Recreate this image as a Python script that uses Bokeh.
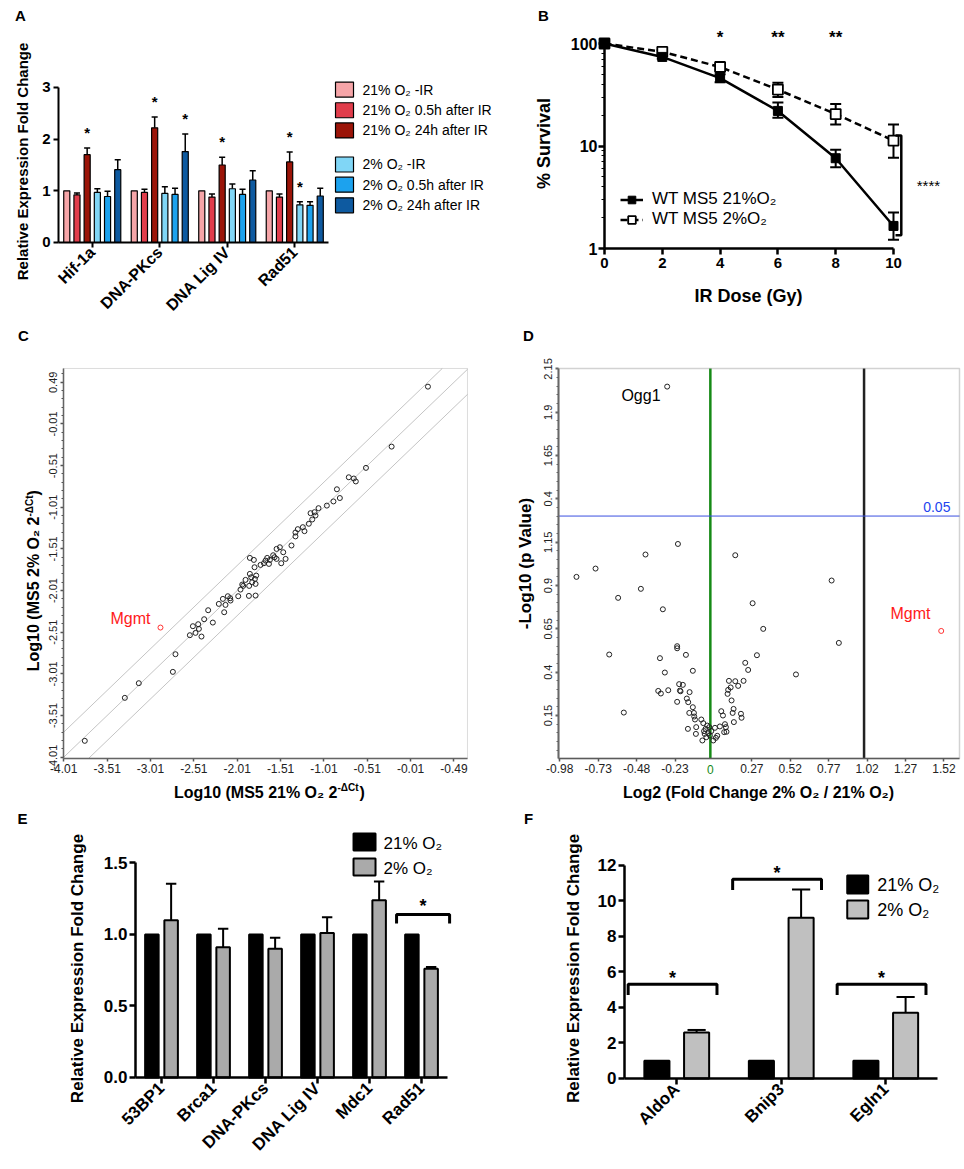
from math import pi
import numpy as np
from bokeh.plotting import figure
from bokeh.models import (Range1d, FixedTicker, Label, Whisker, TeeHead, BoxAnnotation,
                          ColumnDataSource, Legend, LegendItem)
from bokeh.layouts import row, column
from bokeh.embed import file_html
from bokeh.resources import INLINE
from bokeh.core.properties import value

FONT = "Liberation Sans"

# ======================= DATA =======================
# ---- Panel A ----
a_genes = ["Hif-1a", "DNA-PKcs", "DNA Lig IV", "Rad51"]
a_series = ["21% O₂ -IR", "21% O₂ 0.5h after IR", "21% O₂ 24h after IR",
            "2% O₂ -IR", "2% O₂ 0.5h after IR", "2% O₂ 24h after IR"]
a_colors = ["#f6a5a8", "#e13d4b", "#9b1408", "#80d6f6", "#1ca2ee", "#0e5aa0"]
a_values = [
    [1.00, 1.00, 1.00, 1.00],
    [0.92, 0.97, 0.88, 0.88],
    [1.70, 2.22, 1.50, 1.56],
    [0.97, 0.95, 1.04, 0.73],
    [0.89, 0.93, 0.93, 0.72],
    [1.41, 1.76, 1.21, 0.90],
]
a_err_top = [
    [1.00, 1.00, 1.00, 1.00],
    [0.96, 1.03, 0.94, 0.94],
    [1.83, 2.43, 1.65, 1.75],
    [1.04, 1.08, 1.13, 0.79],
    [0.99, 1.05, 1.03, 0.79],
    [1.60, 2.10, 1.39, 1.05],
]
a_sig = [(2, 0), (2, 1), (5, 1), (2, 2), (2, 3), (3, 3)]  # (series, gene)

# ---- Panel B ----
b_dose = [0, 2, 4, 6, 8, 10]
b_21 = [100, 74, 46, 22, 7.6, 1.66]
b_21_lo = [100, 71, 42, 18.9, 6.2, 1.22]
b_21_hi = [100, 77, 50, 26.5, 9.2, 2.25]
b_2 = [100, 83, 59, 35.5, 20.5, 11.3]
b_2_lo = [100, 80, 55.5, 30.1, 16.2, 7.7]
b_2_hi = [100, 86, 62.5, 41.4, 25.7, 16.2]
b_sig_dose = [4, 6, 8]
b_sig_text = ["*", "**", "**"]
b_overall_sig = "****"

# ---- Panel C ---- (log10 21% , log10 2%)
c_points = [
    (0.19, 0.438), (-0.229, -0.282), (-0.525, -0.537), (-0.723, -0.65), (-0.665, -0.665),
    (-0.642, -0.70), (-0.86, -0.794), (-0.826, -0.899), (-0.90, -0.94), (-0.976, -0.99),
    (-1.072, -1.021), (-1.118, -1.069), (-1.164, -1.081), (-1.107, -1.109), (-1.145, -1.157),
    (-1.184, -1.208), (-1.253, -1.249), (-1.311, -1.273), (-1.234, -1.297), (-1.338, -1.313),
    (-1.338, -1.36), (-1.384, -1.469),
    (-3.768, -3.814), (-3.306, -3.298), (-3.145, -3.122), (-2.752, -2.986), (-2.722, -2.774),
    (-2.556, -2.546), (-2.521, -2.438), (-2.491, -2.518), (-2.46, -2.414), (-2.452, -2.47),
    (-2.422, -2.562), (-2.391, -2.354), (-2.345, -2.246), (-2.291, -2.394), (-2.222, -2.17),
    (-2.175, -2.11), (-2.16, -2.27), (-2.145, -2.182), (-2.118, -2.078), (-2.091, -2.102),
    (-2.087, -2.13), (-1.998, -2.078), (-1.972, -1.998), (-1.952, -1.938), (-1.941, -1.954),
    (-1.914, -1.882), (-1.875, -2.074), (-1.872, -1.954), (-1.864, -1.81), (-1.864, -1.618),
    (-1.848, -1.85), (-1.837, -1.91), (-1.818, -1.642), (-1.81, -1.73), (-1.806, -1.87),
    (-1.798, -1.93), (-1.791, -1.83), (-1.798, -2.07), (-1.741, -1.702), (-1.702, -1.682),
    (-1.683, -1.65), (-1.664, -1.618), (-1.644, -1.69), (-1.633, -1.642), (-1.595, -1.586),
    (-1.579, -1.61), (-1.556, -1.63), (-1.556, -1.51), (-1.518, -1.49), (-1.502, -1.682),
    (-1.479, -1.55), (-1.452, -1.63),
]
c_mgmt = (-2.895, -2.454)
c_ticks = [-4.01, -3.51, -3.01, -2.51, -2.01, -1.51, -1.01, -0.51, -0.01, 0.49]
c_xlabels = ["-4.01", "-3.51", "-3.01", "-2.51", "-2.01", "-1.51", "-1.01", "-0.51", "-0.01", "-0.49"]
c_ylabels = ["-4.01", "-3.51", "-3.01", "-2.51", "-2.01", "-1.51", "-1.01", "-0.51", "-0.01", "0.49"]
c_fold = np.log10(2)

# ---- Panel D ---- (log2 fold change, -log10 p)
d_points = [
    (-0.871, 0.950), (-0.747, 0.998), (-0.658, 0.502), (-0.600, 0.829), (-0.563, 0.167),
    (-0.452, 0.881), (-0.422, 1.079), (-0.328, 0.481), (-0.322, 0.277), (-0.339, 0.292),
    (-0.309, 0.763), (-0.296, 0.398), (-0.274, 0.296), (-0.216, 0.550), (-0.216, 0.538),
    (-0.216, 0.229), (-0.211, 1.140), (-0.203, 0.331), (-0.198, 0.294), (-0.194, 0.290),
    (-0.179, 0.327), (-0.159, 0.500), (-0.153, 0.248), (-0.144, 0.227), (-0.137, 0.165),
    (-0.135, 0.285), (-0.146, 0.073), (-0.114, 0.408), (-0.114, 0.198), (-0.107, 0.165),
    (-0.105, 0.144), (-0.100, 0.127), (-0.094, 0.044), (-0.092, 0.083), (-0.059, 0.127),
    (-0.052, 0.006), (-0.046, 0.106), (-0.041, 0.060), (-0.037, 0.044), (-0.031, 0.073),
    (-0.026, 0.025), (-0.020, 0.092), (-0.013, 0.048), (-0.007, 0.083), (-0.003, 0.035),
    (0.006, 0.060), (0.019, 0.006), (0.030, 0.079), (0.036, 0.021), (0.045, 0.033),
    (0.062, 0.087), (0.071, 0.175), (0.082, 0.150), (0.095, 0.100), (0.101, 0.083),
    (0.090, 0.054), (0.105, 0.056), (0.112, 0.275), (0.116, 0.298), (0.121, 0.350),
    (0.132, 0.312), (0.138, 0.237), (0.145, 0.165), (0.151, 0.188), (0.153, 0.112),
    (0.162, 1.075), (0.162, 0.348), (0.181, 0.321), (0.199, 0.160), (0.203, 0.137),
    (0.216, 0.350), (0.227, 0.454), (0.246, 0.413), (0.275, 0.798), (0.303, 0.498),
    (0.344, 0.650), (0.557, 0.387), (0.789, 0.929), (0.836, 0.569), (-0.281, 2.048),
]
d_mgmt = (1.502, 0.638)
d_xticks = [-0.98, -0.73, -0.48, -0.23, 0.27, 0.52, 0.77, 1.02, 1.27, 1.52]
d_xlabels = ["-0.98", "-0.73", "-0.48", "-0.23", "0.27", "0.52", "0.77", "1.02", "1.27", "1.52"]
d_yticks = [0.15, 0.4, 0.65, 0.9, 1.15, 1.4, 1.65, 1.9, 2.15]
d_ylabels = ["0.15", "0.4", "0.65", "0.9", "1.15", "0.4", "1.65", "1.9", "2.15"]
d_p_cut = 0.05
d_fc_cut = 1.0

# ---- Panel E ----
e_genes = ["53BP1", "Brca1", "DNA-PKcs", "DNA Lig IV", "Mdc1", "Rad51"]
e_21 = [1.0, 1.0, 1.0, 1.0, 1.0, 1.0]
e_2 = [1.10, 0.91, 0.90, 1.01, 1.24, 0.76]
e_2_err = [1.355, 1.04, 0.977, 1.12, 1.37, 0.773]
e_sig_gene = [5]
e_bracket_y = [1.14]

# ---- Panel F ----
f_genes = ["AldoA", "Bnip3", "Egln1"]
f_21 = [1.0, 1.0, 1.0]
f_2 = [2.58, 9.04, 3.70]
f_2_err = [2.73, 10.63, 4.58]
f_bracket_y = [5.3, 11.2, 5.3]

legend_ox = ["21% O₂", "2% O₂"]


# ======================= HELPERS =======================
def fig(w, h, xr, yr, log=False):
    p = figure(width=w, height=h, x_range=Range1d(*xr), y_range=Range1d(*yr),
               y_axis_type="log" if log else "linear",
               min_border=0, min_border_left=0, min_border_right=0, min_border_top=0,
               min_border_bottom=0, output_backend="svg", toolbar_location=None, tools="",
               title=None)
    p.xgrid.visible = False
    p.ygrid.visible = False
    p.outline_line_color = None
    p.background_fill_color = "white"
    p.border_fill_color = "white"
    return p


def style(ax, loc, ticks, labels=None, size=15, bold=True, lw=2.0, color="black", tick_out=5,
          standoff=3, minor=None, minor_out=3, bounds=None, orient=None, label_color="black"):
    ax.fixed_location = loc
    ax.ticker = FixedTicker(ticks=list(ticks), minor_ticks=list(minor) if minor else [])
    if labels is not None:
        ax.major_label_overrides = {t: l for t, l in zip(ticks, labels)}
    ax.axis_line_width = lw
    ax.axis_line_color = color
    ax.major_tick_line_width = lw
    ax.major_tick_line_color = color
    ax.major_tick_out = tick_out
    ax.major_tick_in = 0
    if minor:
        ax.minor_tick_line_color = color
        ax.minor_tick_line_width = 1
        ax.minor_tick_out = minor_out
        ax.minor_tick_in = 0
    else:
        ax.minor_tick_line_color = None
    ax.major_label_text_font = FONT
    ax.major_label_text_font_size = f"{size}px"
    ax.major_label_text_font_style = "bold" if bold else "normal"
    ax.major_label_text_color = label_color
    ax.major_label_standoff = standoff
    if bounds is not None:
        ax.bounds = bounds
    if orient is not None:
        ax.major_label_orientation = orient


def lab(p, x, y, text, size, bold=False, color="black", angle=0, align="center", baseline="middle"):
    p.add_layout(Label(x=x, y=y, text=text, angle=angle, text_align=align, text_baseline=baseline,
                       text_font=FONT, text_font_size=f"{size}px",
                       text_font_style="bold" if bold else "normal", text_color=color))


def stars(p, xs, ys, texts, size, bold=True):
    p.text(x=xs, y=ys, text=texts, text_align="center", text_baseline="middle",
           text_font=value(FONT), text_font_size=f"{size}px",
           text_font_style="bold" if bold else "normal", text_color="black")


def errbars(p, xs, tops, errs, half, lw):
    ex = [x for x, v, e in zip(xs, tops, errs) if e > v]
    ev = [v for v, e in zip(tops, errs) if e > v]
    ee = [e for v, e in zip(tops, errs) if e > v]
    if ex:
        p.segment(x0=ex, y0=ev, x1=ex, y1=ee, line_width=lw, line_color="black")
        p.segment(x0=[x - half for x in ex], y0=ee, x1=[x + half for x in ex], y1=ee,
                  line_width=lw, line_color="black")


W_L, W_R = 505, 459
H1, H2, H3 = 320, 485, 363

# ======================= PANEL A =======================
pA = fig(W_L, H1, (-0.8593, 6.622), (-1.5096, 4.6836))
style(pA.xaxis[0], 0, [g + 0.5 for g in range(len(a_genes))], a_genes, size=16,
      bounds=(0, len(a_genes)), orient=pi / 4, standoff=2)
style(pA.yaxis[0], 0, [0, 1, 2, 3], ["0", "1", "2", "3"], size=15, bounds=(0, 3), standoff=3)
a_pitch = 0.151
na = len(a_series)
for s in range(na):
    off = (s - (na - 1) / 2) * a_pitch
    xs = [g + 0.5 + off for g in range(len(a_genes))]
    errbars(pA, xs, a_values[s], a_err_top[s], 0.045, 1.5)
    pA.vbar(x=xs, top=a_values[s], bottom=0, width=0.09, fill_color=a_colors[s],
            line_color="black", line_width=1.2)
sx = [g + 0.5 + (s - (na - 1) / 2) * a_pitch for s, g in a_sig]
sy = [a_err_top[s][g] + 0.30 for s, g in a_sig]
stars(pA, sx, sy, ["*"] * len(sx), 15)
a_leg_y = [2.96, 2.56, 2.17, 1.51, 1.12, 0.72]
pA.rect(x=4.237, y=a_leg_y, width=18, height=15, width_units="screen", height_units="screen",
        fill_color=a_colors, line_color="black", line_width=1.2)
pA.text(x=4.504, y=a_leg_y, text=a_series, text_align="left", text_baseline="middle",
        text_font=value(FONT), text_font_size="14px", text_color="black")
lab(pA, -0.563, 4.393, "A", 15, bold=True)
lab(pA, -0.533, 1.568, "Relative Expression Fold Change", 15, bold=True, angle=pi / 2)

# ======================= PANEL B =======================
pB = fig(W_R, H1, (-3.4256, 12.457), (0.1984, 262.8), log=True)
style(pB.xaxis[0], 1, b_dose, [str(d) for d in b_dose], size=15, bounds=(0, 10), lw=2.5,
      standoff=3, tick_out=6)
b_minor = [m * 10 ** e for e in (0, 1) for m in range(2, 10)]
style(pB.yaxis[0], 0, [1, 10, 100], ["1", "10", "100"], size=16, bounds=(1, 100), lw=2.5,
      standoff=1, tick_out=6, minor=b_minor, minor_out=3)
l2 = pB.line(b_dose, b_2, line_width=2.5, line_color="black", line_dash="7 4")
l21 = pB.line(b_dose, b_21, line_width=2.5, line_color="black")
for lo, hi in ((b_21_lo, b_21_hi), (b_2_lo, b_2_hi)):
    keep = [i for i in range(len(b_dose)) if hi[i] > lo[i]]
    src = ColumnDataSource(dict(x=[b_dose[i] for i in keep], lo=[lo[i] for i in keep],
                                hi=[hi[i] for i in keep]))
    pB.add_layout(Whisker(source=src, base="x", lower="lo", upper="hi", line_width=2,
                          line_color="black",
                          upper_head=TeeHead(size=11, line_width=2, line_color="black"),
                          lower_head=TeeHead(size=11, line_width=2, line_color="black")))
m2 = pB.scatter(b_dose, b_2, marker="square", size=10, fill_color="white", line_color="black",
                line_width=1.8)
m21 = pB.scatter(b_dose, b_21, marker="square", size=9, fill_color="black", line_color="black")
legB = Legend(items=[LegendItem(label="WT MS5 21%O₂", renderers=[l21, m21]),
                     LegendItem(label="WT MS5 2%O₂", renderers=[l2, m2])],
              location=(115, 91), padding=0, margin=0, spacing=0, glyph_width=23,
              glyph_height=19, label_height=19, label_standoff=9,
              label_text_font=FONT, label_text_font_size="17px", label_text_color="black",
              background_fill_alpha=0, border_line_color=None)
pB.add_layout(legB)
stars(pB, b_sig_dose, [114] * len(b_sig_dose), b_sig_text, 17)
b_top = b_2[-1] * 1.12
b_bot = b_21[-1] * 0.81
pB.multi_line(xs=[[10.07, 10.27, 10.27, 10.07]], ys=[[b_top, b_top, b_bot, b_bot]],
              line_width=2.5, line_color="black")
stars(pB, [11.21], [np.sqrt(b_top * b_bot)], [b_overall_sig], 15, bold=False)
lab(pB, -2.11, 187.5, "B", 15, bold=True)
lab(pB, -2.11, 10.58, "% Survival", 18, bold=True, angle=pi / 2)
lab(pB, 4.98, 0.3478, "IR Dose (Gy)", 18, bold=True)

# ======================= PANEL C =======================
cx0, cx1, cy0, cy1 = -4.0135, 0.646, -4.026, 0.656
pC = fig(W_L, H2, (-4.7401, 1.0845), (-4.5902, 1.232))
c_minor = [t + 0.1 * j for t in c_ticks for j in range(1, 5)] + [-4.01 - 0.1 * j for j in range(1, 2)]
style(pC.xaxis[0], cy0, c_ticks, c_xlabels, size=12, bold=False, lw=1.5, color="#555555",
      tick_out=3, standoff=2, bounds=(cx0, cx1), label_color="#222222")
style(pC.yaxis[0], cx0, c_ticks, c_ylabels, size=11, bold=False, lw=1.5, color="#555555",
      tick_out=3, standoff=3, minor=[m for m in c_minor if cy0 <= m <= cy1], minor_out=2,
      orient="vertical", bounds=(cy0, cy1), label_color="#222222")
pC.add_layout(BoxAnnotation(left=cx0, right=cx1, bottom=cy0, top=cy1, fill_alpha=0,
                            line_color="#8a8a8a", line_width=1))
for k in (0, 1, -1):
    off = k * c_fold
    xa = max(cx0, cy0 - off)
    xb = min(cx1, cy1 - off)
    pC.line(x=[xa, xb], y=[xa + off, xb + off], line_color="#c4c4c4", line_width=1)
pC.scatter(x=[p[0] for p in c_points], y=[p[1] for p in c_points], marker="circle", size=5,
           fill_color=None, line_color="#222222", line_width=1)
pC.scatter(x=[c_mgmt[0]], y=[c_mgmt[1]], marker="circle", size=5, fill_color=None,
           line_color="#ff3333", line_width=1)
lab(pC, -3.241, -2.345, "Mgmt", 16, color="#ff1a1a")
lab(pC, -4.475, 1.052, "C", 15, bold=True)
lab(pC, -0.853, -4.434, "Log10 (MS5 21% O₂ 2", 16, bold=True, align="right")
lab(pC, -0.853, -4.374, "-ΔCt", 10, bold=True, align="left")
lab(pC, -0.60, -4.434, ")", 16, bold=True, align="left")
lab(pC, -4.36, -1.121, "Log10 (MS5 2% O₂ 2", 16, bold=True, angle=pi / 2, align="right")
lab(pC, -4.411, -1.121, "-ΔCt", 10, bold=True, angle=pi / 2, align="left")
lab(pC, -4.36, -0.869, ")", 16, bold=True, angle=pi / 2, align="left")

# ======================= PANEL D =======================
dx0, dx1, dy0, dy1 = -0.988, 1.621, -0.098, 2.152
pD = fig(W_R, H2, (-1.3328, 1.6535), (-0.3692, 2.4294))
d_minor = [t + 0.05 * j for t in d_yticks for j in range(1, 5)] + [0.15 - 0.05 * j for j in range(1, 5)]
style(pD.xaxis[0], dy0, d_xticks, d_xlabels, size=12, bold=False, lw=1.5, color="#555555",
      tick_out=3, standoff=2, bounds=(dx0, dx1), label_color="#222222")
style(pD.yaxis[0], dx0, d_yticks, d_ylabels, size=11, bold=False, lw=2, color="#666666",
      tick_out=3, standoff=3, minor=[m for m in d_minor if dy0 <= m <= dy1], minor_out=2,
      orient="vertical", bounds=(dy0, dy1), label_color="#222222")
pD.add_layout(BoxAnnotation(left=dx0, right=dx1, bottom=dy0, top=dy1, fill_alpha=0,
                            line_color="#6a6a6a", line_width=1.5))
p_line = -np.log10(d_p_cut)
pD.segment(x0=[0, d_fc_cut], y0=[dy0, dy0], x1=[0, d_fc_cut], y1=[dy1, dy1],
           line_color=["#168a16", "#222222"], line_width=2.5)
pD.segment(x0=[dx0], y0=[p_line], x1=[dx1], y1=[p_line], line_color="#3a4fe0", line_width=1)
pD.scatter(x=[p[0] for p in d_points], y=[p[1] for p in d_points], marker="circle", size=5,
           fill_color=None, line_color="#222222", line_width=1)
pD.scatter(x=[d_mgmt[0]], y=[d_mgmt[1]], marker="circle", size=5, fill_color=None,
           line_color="#ff3333", line_width=1)
lab(pD, 0, -0.160, "0", 12, color="#168a16")
lab(pD, 1.562, 1.352, str(d_p_cut), 14, color="#2244ee", align="right")
lab(pD, -0.324, 1.997, "Ogg1", 16, align="right")
lab(pD, 1.302, 0.74, "Mgmt", 16, color="#ff1a1a")
lab(pD, -1.183, 2.343, "D", 15, bold=True)
lab(pD, -1.203, 1.027, "-Log10 (p Value)", 17, bold=True, angle=pi / 2)
lab(pD, 0.313, -0.294, "Log2 (Fold Change 2% O₂ / 21% O₂)", 16, bold=True)

# ======================= PANEL E =======================
pE = fig(W_L, H3, (-2.5962, 7.115), (-0.6364, 1.902))
style(pE.xaxis[0], 0, [i + 0.5 for i in range(len(e_genes))], e_genes, size=17,
      bounds=(0, len(e_genes)), orient=pi / 4, lw=2.5, standoff=2, tick_out=6)
style(pE.yaxis[0], 0, [0, 0.5, 1, 1.5], ["0.0", "0.5", "1.0", "1.5"], size=17, bounds=(0, 1.5),
      lw=2.5, standoff=2, tick_out=6)
ex_b = [i + 0.5 - 0.185 for i in range(len(e_genes))]
ex_g = [i + 0.5 + 0.185 for i in range(len(e_genes))]
errbars(pE, ex_g, e_2, e_2_err, 0.10, 2)
pE.vbar(x=ex_b, top=e_21, bottom=0, width=0.26, fill_color="black", line_color="black",
        line_width=2)
pE.vbar(x=ex_g, top=e_2, bottom=0, width=0.26, fill_color="#aaaaaa", line_color="black",
        line_width=2)
pE.multi_line(xs=[[g + 0.02, g + 0.02, g + 1.04, g + 1.04] for g in e_sig_gene],
              ys=[[y - 0.063, y, y, y - 0.063] for y in e_bracket_y],
              line_width=3, line_color="black")
stars(pE, [g + 0.53 for g in e_sig_gene], [y + 0.058 for y in e_bracket_y],
      ["*"] * len(e_sig_gene), 18)
pE.rect(x=4.404, y=[1.647, 1.472], width=22, height=17, width_units="screen",
        height_units="screen", fill_color=["black", "#aaaaaa"], line_color="black", line_width=2)
pE.text(x=4.769, y=[1.636, 1.462], text=legend_ox, text_align="left", text_baseline="middle",
        text_font=value(FONT), text_font_size="17px", text_color="black")
lab(pE, -2.173, 1.811, "E", 15, bold=True)
lab(pE, -1.115, 0.762, "Relative Expression Fold Change", 17, bold=True, angle=pi / 2)

# ======================= PANEL F =======================
pF = fig(W_R, H3, (-1.1388, 3.2536), (-5.062, 15.354))
style(pF.xaxis[0], 0, [i + 0.5 for i in range(len(f_genes))], f_genes, size=17,
      bounds=(0, len(f_genes)), orient=pi / 4, lw=2.5, standoff=2, tick_out=6)
style(pF.yaxis[0], 0, list(range(0, 13, 2)), [str(v) for v in range(0, 13, 2)], size=17,
      bounds=(0, 12), lw=2.5, standoff=2, tick_out=6)
fx_b = [i + 0.5 - 0.19 for i in range(len(f_genes))]
fx_g = [i + 0.5 + 0.19 for i in range(len(f_genes))]
errbars(pF, fx_g, f_2, f_2_err, 0.087, 2)
pF.vbar(x=fx_b, top=f_21, bottom=0, width=0.24, fill_color="black", line_color="black",
        line_width=2)
pF.vbar(x=fx_g, top=f_2, bottom=0, width=0.24, fill_color="#c0c0c0", line_color="black",
        line_width=2)
pF.multi_line(xs=[[i + 0.035, i + 0.035, i + 0.885, i + 0.885] for i in range(len(f_genes))],
              ys=[[y - 0.6, y, y, y - 0.6] for y in f_bracket_y],
              line_width=3, line_color="black")
stars(pF, [i + 0.46 for i in range(len(f_genes))], [y + 0.36 for y in f_bracket_y],
      ["*"] * len(f_genes), 18)
pF.rect(x=2.232, y=[10.91, 9.505], width=21, height=18, width_units="screen",
        height_units="screen", fill_color=["black", "#c0c0c0"], line_color="black", line_width=2)
pF.text(x=2.418, y=[10.855, 9.45], text=legend_ox, text_align="left", text_baseline="middle",
        text_font=value(FONT), text_font_size="18px", text_color="black")
lab(pF, -0.919, 14.62, "F", 15, bold=True)
lab(pF, -0.488, 6.19, "Relative Expression Fold Change", 17, bold=True, angle=pi / 2)

layout = column(row(pA, pB), row(pC, pD), row(pE, pF))
open("out.html", "w").write(file_html(layout, INLINE))
